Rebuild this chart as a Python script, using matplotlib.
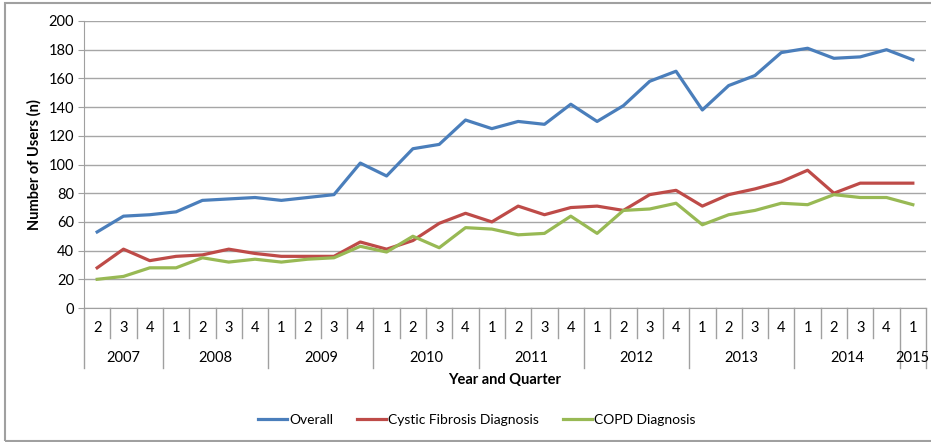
import matplotlib.pyplot as plt
from matplotlib.patches import Rectangle

plt.rcParams["font.family"] = ["Lato", "DejaVu Sans"]

# Quarters from 2007 Q2 to 2015 Q1
years = [2007] * 3 + [y for y in range(2008, 2015) for _ in range(4)] + [2015]
quarters = [2, 3, 4] + [1, 2, 3, 4] * 7 + [1]

overall = [53, 64, 65, 67, 75, 76, 77, 75, 77, 79, 101, 92, 111, 114, 131,
           125, 130, 128, 142, 130, 141, 158, 165, 138, 155, 162, 178,
           181, 174, 175, 180, 173]
cystic_fibrosis = [28, 41, 33, 36, 37, 41, 38, 36, 36, 36, 46, 41, 47, 59, 66,
                   60, 71, 65, 70, 71, 68, 79, 82, 71, 79, 83, 88,
                   96, 80, 87, 87, 87]
copd = [20, 22, 28, 28, 35, 32, 34, 32, 34, 35, 43, 39, 50, 42, 56,
        55, 51, 52, 64, 52, 68, 69, 73, 58, 65, 68, 73,
        72, 79, 77, 77, 72]

W, H = 931, 442
fig = plt.figure(figsize=(W / 100, H / 100), dpi=100)

# outer frame like the pasted chart
fig.patches.append(Rectangle((5 / W, 1 / H), 1.0, (H - 4) / H, transform=fig.transFigure,
                             fill=False, edgecolor="#a0a0a0", linewidth=1.5))

left, right, top, bottom = 84, 926, 21, 308
ax = fig.add_axes([left / W, 1 - bottom / H, (right - left) / W, (bottom - top) / H])

x = list(range(len(quarters)))
ax.plot(x, overall, color="#4a7ebb", lw=2.3, label="Overall")
ax.plot(x, cystic_fibrosis, color="#be4b48", lw=2.3, label="Cystic Fibrosis Diagnosis")
ax.plot(x, copd, color="#98b954", lw=2.3, label="COPD Diagnosis")

ax.set_xlim(-0.5, len(x) - 0.5)
ax.set_ylim(0, 200)
ax.set_yticks(range(0, 201, 20))
ax.tick_params(axis="y", labelsize=10.5, length=4, color="#a0a0a0", pad=3)
ax.set_xticks([])
ax.grid(axis="y", color="#a6a6a6", lw=1)
ax.set_axisbelow(True)
for s in ["top", "right"]:
    ax.spines[s].set_visible(False)
ax.spines["left"].set_color("#a0a0a0")
ax.spines["bottom"].set_color("#a0a0a0")

# two-level category axis (quarter / year)
px = 1 / (bottom - top)
tr = ax.get_xaxis_transform()
for i, q in enumerate(quarters):
    ax.text(i, -20 * px, str(q), transform=tr, ha="center", va="center", fontsize=10.5)
for i in range(len(x) + 1):
    new_year = i == 0 or i == len(x) or quarters[i] == 1
    depth = 60 if new_year else 30
    ax.plot([i - 0.5, i - 0.5], [0, -depth * px], transform=tr, color="#a0a0a0",
            lw=1, clip_on=False)
for y in sorted(set(years)):
    idx = [i for i, v in enumerate(years) if v == y]
    ax.text(sum(idx) / len(idx), -50 * px, str(y), transform=tr, ha="center",
            va="center", fontsize=10.5)

fig.text((left + right) / 2 / W, 1 - 380 / H, "Year and Quarter", ha="center",
         va="center", fontsize=10.5, fontweight="bold")
fig.text(34 / W, 1 - 165 / H, "Number of Users (n)", ha="center", va="center",
         rotation=90, fontsize=10.5, fontweight="bold")

fig.legend(loc="center", bbox_to_anchor=(477 / W, 1 - 420 / H), ncol=3, frameon=False,
           fontsize=10, handlelength=2.1, handletextpad=0.15, columnspacing=1.7)

fig.savefig("out.png", dpi=100)
